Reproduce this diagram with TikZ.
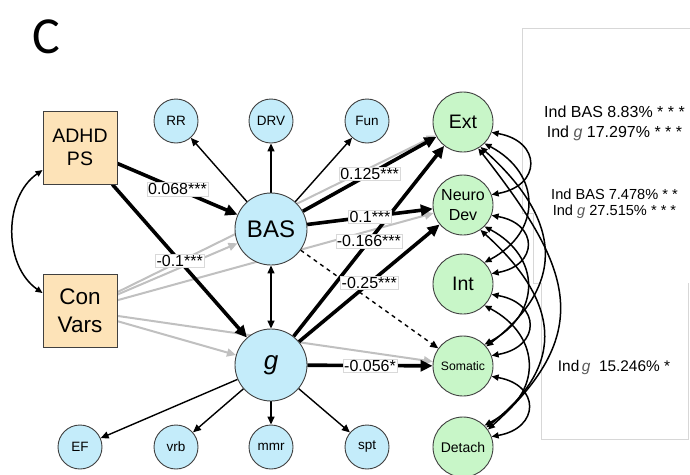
\documentclass[tikz,border=0pt]{standalone}
\usepackage{fontspec}
\setmainfont{Liberation Sans}
\newfontfamily\calibfont{Carlito}
\usetikzlibrary{arrows.meta,backgrounds}
\definecolor{boxfill}{RGB}{253,227,184}
\definecolor{bluefill}{RGB}{196,236,250}
\definecolor{greenfill}{RGB}{200,246,200}
\definecolor{grayline}{RGB}{192,192,192}
\definecolor{panelline}{RGB}{215,215,215}
\definecolor{gtext}{RGB}{90,90,90}
\newcommand{\myfs}[2]{\fontsize{#1}{#2}\selectfont}
\begin{document}
\begin{tikzpicture}[x=1pt,y=-1pt,
 obsbox/.style={draw=black!75,line width=0.9pt,fill=boxfill,minimum width=74pt,minimum height=73pt,inner sep=0pt,align=center},
 latnode/.style={circle,draw=black!75,line width=0.9pt,fill=bluefill,minimum size=72pt,inner sep=0pt},
 indnode/.style={circle,draw=black!75,line width=0.9pt,fill=bluefill,minimum size=44pt,inner sep=0pt,font=\myfs{13.5}{15}},
 outnode/.style={circle,draw=black!75,line width=0.9pt,fill=greenfill,minimum size=60pt,inner sep=0pt,align=center},
 thickarr/.style={line width=3.6pt,-{Triangle[length=12pt,width=11pt]}},
 thinarr/.style={line width=1.4pt,-{Triangle[length=8pt,width=7pt]}},
 dblarr/.style={line width=1.4pt,{Triangle[length=8pt,width=7pt]}-{Triangle[length=8pt,width=7pt]}},
 grayarr/.style={draw=grayline,line width=2pt,-{Triangle[length=9pt,width=8pt]}},
 covarr/.style={line width=1.5pt,{Triangle[length=7pt,width=6pt]}-{Triangle[length=7pt,width=6pt]}},
 dasharr/.style={line width=1.4pt,dash pattern=on 4pt off 4pt,-{Triangle[length=8pt,width=7pt]}},
 lbl/.style={fill=white,draw=black!15,line width=0.5pt,inner sep=1pt,font=\myfs{16}{16}},
 paneltxt/.style={anchor=base,inner sep=0pt},
]
\useasboundingbox (0,0) rectangle (690,474);

% title
\node[font=\calibfont\myfs{52}{52},inner sep=0pt] (title) at (46,37) {C};

% observed boxes
\node[obsbox,font=\myfs{19.5}{23}] (adhd) at (80,147.5) {ADHD\\PS};
\node[obsbox,font=\myfs{22.5}{28}] (con) at (80,310.5) {Con\\Vars};

% latent
\node[latnode,font=\myfs{24}{24}] (bas) at (271,229) {BAS};
\node[latnode,font=\itshape\myfs{26}{26}] (g) at (271,365) {g};

% indicators
\node[indnode] (rr) at (176,121) {RR};
\node[indnode] (drv) at (271,121) {DRV};
\node[indnode] (fun) at (367,121) {Fun};
\node[indnode] (ef) at (80,447) {EF};
\node[indnode] (vrb) at (176,447) {vrb};
\node[indnode] (mmr) at (271,447) {mmr};
\node[indnode] (spt) at (367,447) {spt};

% outcomes
\node[outnode,font=\myfs{19.5}{20}] (ext) at (463,122) {Ext};
\node[outnode,font=\myfs{16}{20}] (neuro) at (463,205) {Neuro\\Dev};
\node[outnode,font=\myfs{19.5}{20}] (int) at (463,284) {Int};
\node[outnode,font=\myfs{12.2}{14}] (som) at (463,366) {Somatic};
\node[outnode,font=\myfs{14}{16}] (det) at (463,447) {Detach};

\begin{scope}[on background layer]
\fill[white] (0,0) rectangle (690,474);
% panel outline
\draw[panelline,line width=0.8pt] (700,28) -- (522.5,28) -- (522.5,213) -- (533,213) -- (533,283) -- (541,283) -- (541,439) -- (688,439) -- (688,283);
% control variable paths
\draw[grayarr] (con) -- (ext);
\draw[grayarr] (con) -- (neuro);
\draw[grayarr] (con) -- (bas);
\draw[grayarr] (con) -- (g);
\draw[grayarr] (con) -- (som);
% measurement
\draw[thinarr] (bas) -- (rr);
\draw[thinarr] (bas) -- (drv);
\draw[thinarr] (bas) -- (fun);
\draw[thinarr] (g) -- (ef);
\draw[thinarr] (g) -- (vrb);
\draw[thinarr] (g) -- (mmr);
\draw[thinarr] (g) -- (spt);
\draw[dblarr] (bas) -- (g);
\draw[covarr] (adhd.211) to[out=215,in=145] (con.155);
% structural
\draw[thickarr] (adhd) -- coordinate[pos=0.5] (c1) (bas);
\draw[thickarr] (adhd) -- coordinate[pos=0.5] (c2) (g);
\draw[thickarr] (bas) -- coordinate[pos=0.5] (c3) (ext);
\draw[thickarr] (bas) -- coordinate[pos=0.5] (c4) (neuro);
\draw[thickarr] (g) -- coordinate[pos=0.5] (c5) (ext);
\draw[thickarr] (g) -- coordinate[pos=0.5] (c6) (neuro);
\draw[thickarr] (g) -- coordinate[pos=0.5] (c7) (som);
\draw[dasharr] (bas) -- (som);
% outcome covariances
\draw[covarr] (ext.-20) to[out=-10,in=10,looseness=2.1] (neuro.20);
\draw[covarr] (neuro.-20) to[out=-10,in=10,looseness=2.1] (int.20);
\draw[covarr] (int.-20) to[out=-10,in=10,looseness=2.1] (som.20);
\draw[covarr] (som.-20) to[out=-10,in=10,looseness=2.1] (det.20);
\draw[covarr] (ext.-45) to[out=-28,in=28,looseness=1.4] (int.45);
\draw[covarr] (neuro.-45) to[out=-28,in=28,looseness=1.4] (som.45);
\draw[covarr] (int.-45) to[out=-28,in=28,looseness=1.4] (det.45);
\draw[covarr] (ext.-55) to[out=-42,in=38,looseness=1.35] (som.40);
\draw[covarr] (neuro.-55) to[out=-42,in=38,looseness=1.35] (det.40);
\draw[covarr] (ext.-60) to[out=-52,in=42,looseness=1.35] (det.35);
\end{scope}

% path labels
\node[lbl] (l1) at (c1) {0.068***};
\node[lbl] (l2) at (c2) {-0.1***};
\node[lbl] (l3) at (c3) {0.125***};
\node[lbl] (l4) at (c4) {0.1***};
\node[lbl] (l5) at (c5) {-0.166***};
\node[lbl] (l6) at (c6) {-0.25***};
\node[lbl] (l7) at (c7) {-0.056*};

% indirect effects panel
\node[paneltxt,font=\myfs{16}{18}] (p1) at (614.5,117) {Ind BAS 8.83\% * * *};
\node[paneltxt,font=\myfs{16}{18}] (p2) at (614.5,137) {Ind {\itshape\color{gtext}g} 17.297\% * * *};
\node[paneltxt,font=\myfs{14.6}{16}] (p3) at (614.5,199) {Ind BAS 7.478\% * *};
\node[paneltxt,font=\myfs{14.6}{16}] (p4) at (614.5,215) {Ind {\itshape\color{gtext}g} 27.515\% * * *};
\node[paneltxt,font=\myfs{15.4}{18}] (p5) at (614,371.5) {Ind\,{\itshape\color{gtext}g}\ \ 15.246\% *};
\end{tikzpicture}
\end{document}
